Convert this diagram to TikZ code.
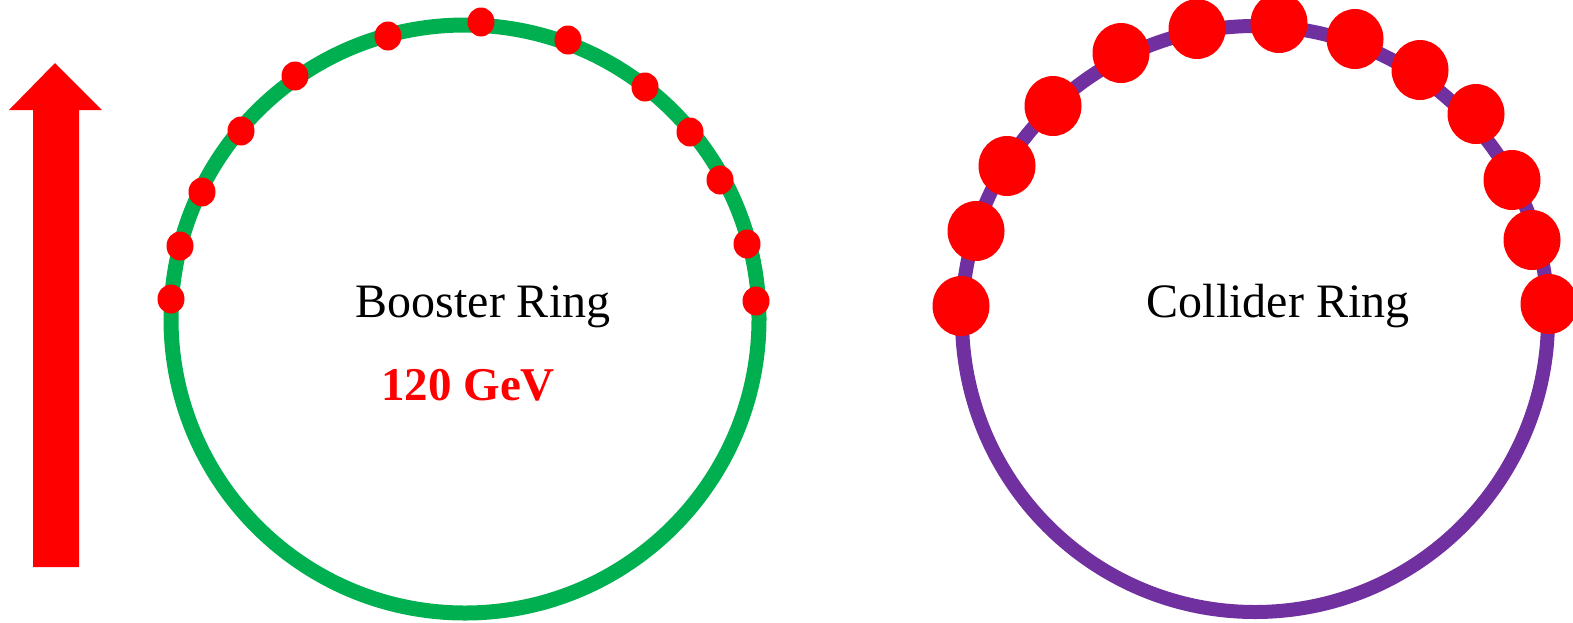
\documentclass[tikz,border=0pt]{standalone}
\usepackage{fontspec}
\setmainfont{Liberation Serif}
\usetikzlibrary{shapes.geometric}
\definecolor{ringgreen}{HTML}{00B050}
\definecolor{ringpurple}{HTML}{7030A0}
\definecolor{bunchred}{HTML}{FF0000}
\tikzset{
  ringline/.style={line width=15pt},
  smallbunch/.style={ellipse, fill=bunchred, inner sep=0pt, minimum width=27pt, minimum height=29pt},
  bigbunch/.style={ellipse, fill=bunchred, inner sep=0pt, minimum width=57pt, minimum height=60pt},
  ringlabel/.style={font=\fontsize{48}{56}\selectfont, anchor=base, inner sep=0pt},
}
\begin{document}
\begin{tikzpicture}[x=1pt,y=-1pt]
\useasboundingbox (0,0) rectangle (1573,622);
% arrow
\fill[bunchred] (33,567) -- (33,110) -- (9,110) -- (55,63) -- (102,110) -- (79,110) -- (79,567) -- cycle;
% rings
\draw[ringline, ringgreen] (465,319) circle [radius=294pt];
\draw[ringline, line width=14pt, ringpurple] (1255,319) circle [radius=293pt];
% labels
\node[ringlabel] (blabel) at (483,317) {Booster Ring};
\node[ringlabel] (clabel) at (1278,317) {Collider Ring};
\node[ringlabel, font=\fontsize{47}{56}\selectfont\bfseries, text=bunchred] (energy) at (468,400) {120 GeV};
% booster bunches
\foreach \n/\x/\y in {1/171/299, 2/180/246, 3/202/192, 4/241/131, 5/295/76, 6/388/36, 7/481/22, 8/568/40, 9/645/87, 10/690/132, 11/720/180, 12/747/244, 13/756/301}
  \node[smallbunch] (b\n) at (\x,\y) {};
% collider bunches
\foreach \n/\x/\y in {1/961/306, 2/976/231, 3/1007/166, 4/1053/106, 5/1121/53, 6/1197/29, 7/1279/23, 8/1355/39, 9/1420/70, 10/1476/114, 11/1512/180, 12/1532/240, 13/1549/304}
  \node[bigbunch] (c\n) at (\x,\y) {};
\end{tikzpicture}
\end{document}
